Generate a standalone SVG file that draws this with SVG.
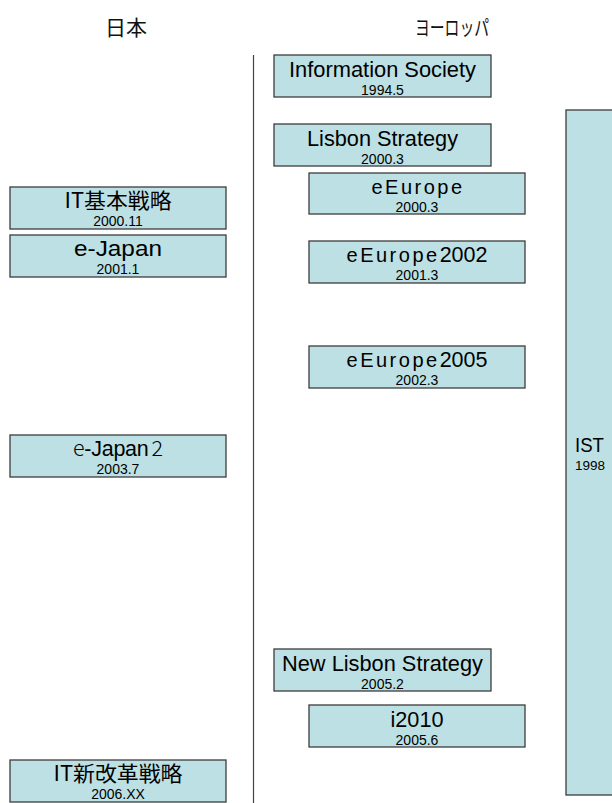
<svg xmlns="http://www.w3.org/2000/svg" width="612" height="803" viewBox="0 0 612 803">
<style>
.box{fill:#bce0e3;stroke:#3c3c3c;stroke-width:1.3}
.t{font-family:"Liberation Sans",Arial,"Noto Sans CJK JP",sans-serif;font-size:21.5px;fill:#000;text-anchor:middle}
.j{font-family:"Noto Sans CJK JP","Liberation Sans",sans-serif;font-size:21px;fill:#000;text-anchor:middle}
.d{font-family:"Liberation Sans",Arial,sans-serif;font-size:14px;fill:#000;text-anchor:middle}
.h{font-family:"Noto Sans CJK JP",sans-serif;font-size:21px;fill:#111;text-anchor:middle}
.ee{letter-spacing:2.5px;font-size:20px}
.div{stroke:#444;stroke-width:1.2;fill:none}
</style>
<rect width="612" height="803" fill="#fff"/>
<g id="headers">
<text class="h" x="126" y="35" textLength="42" lengthAdjust="spacingAndGlyphs">日本</text>
<text class="h" x="452" y="35" textLength="74" lengthAdjust="spacingAndGlyphs">ヨーロッパ</text>
</g>
<g id="connectors">
<line class="div" x1="253.5" y1="55" x2="253.5" y2="803"/>
</g>
<g id="ist">
<rect class="box" x="566" y="110" width="60" height="685"/>
<text x="575" y="452" font-family="Liberation Sans,Arial,sans-serif" font-size="21" textLength="29" lengthAdjust="spacingAndGlyphs">IST</text>
<text x="575" y="470" font-family="Liberation Sans,Arial,sans-serif" font-size="13.5">1998</text>
</g>
<g id="it-kihon">
<rect class="box" x="10" y="187" width="216" height="42"/>
<text class="j" x="118" y="208" textLength="107" lengthAdjust="spacingAndGlyphs">IT基本戦略</text>
<text class="d" x="118" y="226">2000.11</text>
</g>
<g id="e-japan">
<rect class="box" x="10" y="235" width="216" height="42"/>
<text class="t" x="118" y="256" textLength="88" lengthAdjust="spacingAndGlyphs">e-Japan</text>
<text class="d" x="118" y="274">2001.1</text>
</g>
<g id="e-japan2">
<rect class="box" x="10" y="435" width="216" height="42"/>
<text class="t" x="118" y="456" textLength="90" lengthAdjust="spacing"><tspan font-family="Noto Sans CJK JP,sans-serif" font-weight="300">e</tspan>-Japan<tspan dx="3" font-family="Noto Sans CJK JP,sans-serif" font-weight="300">2</tspan></text>
<text class="d" x="118" y="474">2003.7</text>
</g>
<g id="it-shinkaikaku">
<rect class="box" x="10" y="760" width="216" height="42"/>
<text class="j" x="118" y="781" textLength="129" lengthAdjust="spacingAndGlyphs">IT新改革戦略</text>
<text class="d" x="118" y="799">2006.XX</text>
</g>
<g id="information-society">
<rect class="box" x="274" y="55" width="217" height="42"/>
<text class="t" x="382.5" y="76.5" textLength="187" lengthAdjust="spacingAndGlyphs">Information Society</text>
<text class="d" x="382.5" y="94.5">1994.5</text>
</g>
<g id="lisbon-strategy">
<rect class="box" x="274" y="124" width="217" height="42"/>
<text class="t" x="382.5" y="145.5" textLength="151" lengthAdjust="spacingAndGlyphs">Lisbon Strategy</text>
<text class="d" x="382.5" y="163.5">2000.3</text>
</g>
<g id="eeurope">
<rect class="box" x="309" y="173" width="216" height="41"/>
<text class="t ee" x="418" y="194">eEurope</text>
<text class="d" x="417" y="211.5">2000.3</text>
</g>
<g id="eeurope2002">
<rect class="box" x="309" y="241" width="216" height="42"/>
<text class="t" x="417" y="262"><tspan class="ee">eEurope</tspan>2002</text>
<text class="d" x="417" y="280">2001.3</text>
</g>
<g id="eeurope2005">
<rect class="box" x="309" y="346" width="216" height="42"/>
<text class="t" x="417" y="367"><tspan class="ee">eEurope</tspan>2005</text>
<text class="d" x="417" y="385">2002.3</text>
</g>
<g id="new-lisbon-strategy">
<rect class="box" x="274" y="649" width="217" height="42"/>
<text class="t" x="382.5" y="670.5" textLength="201" lengthAdjust="spacingAndGlyphs">New Lisbon Strategy</text>
<text class="d" x="382.5" y="688.5">2005.2</text>
</g>
<g id="i2010">
<rect class="box" x="309" y="705" width="216" height="42"/>
<text class="t" x="417" y="726.5" textLength="53" lengthAdjust="spacingAndGlyphs">i2010</text>
<text class="d" x="417" y="744.5">2005.6</text>
</g>
</svg>
